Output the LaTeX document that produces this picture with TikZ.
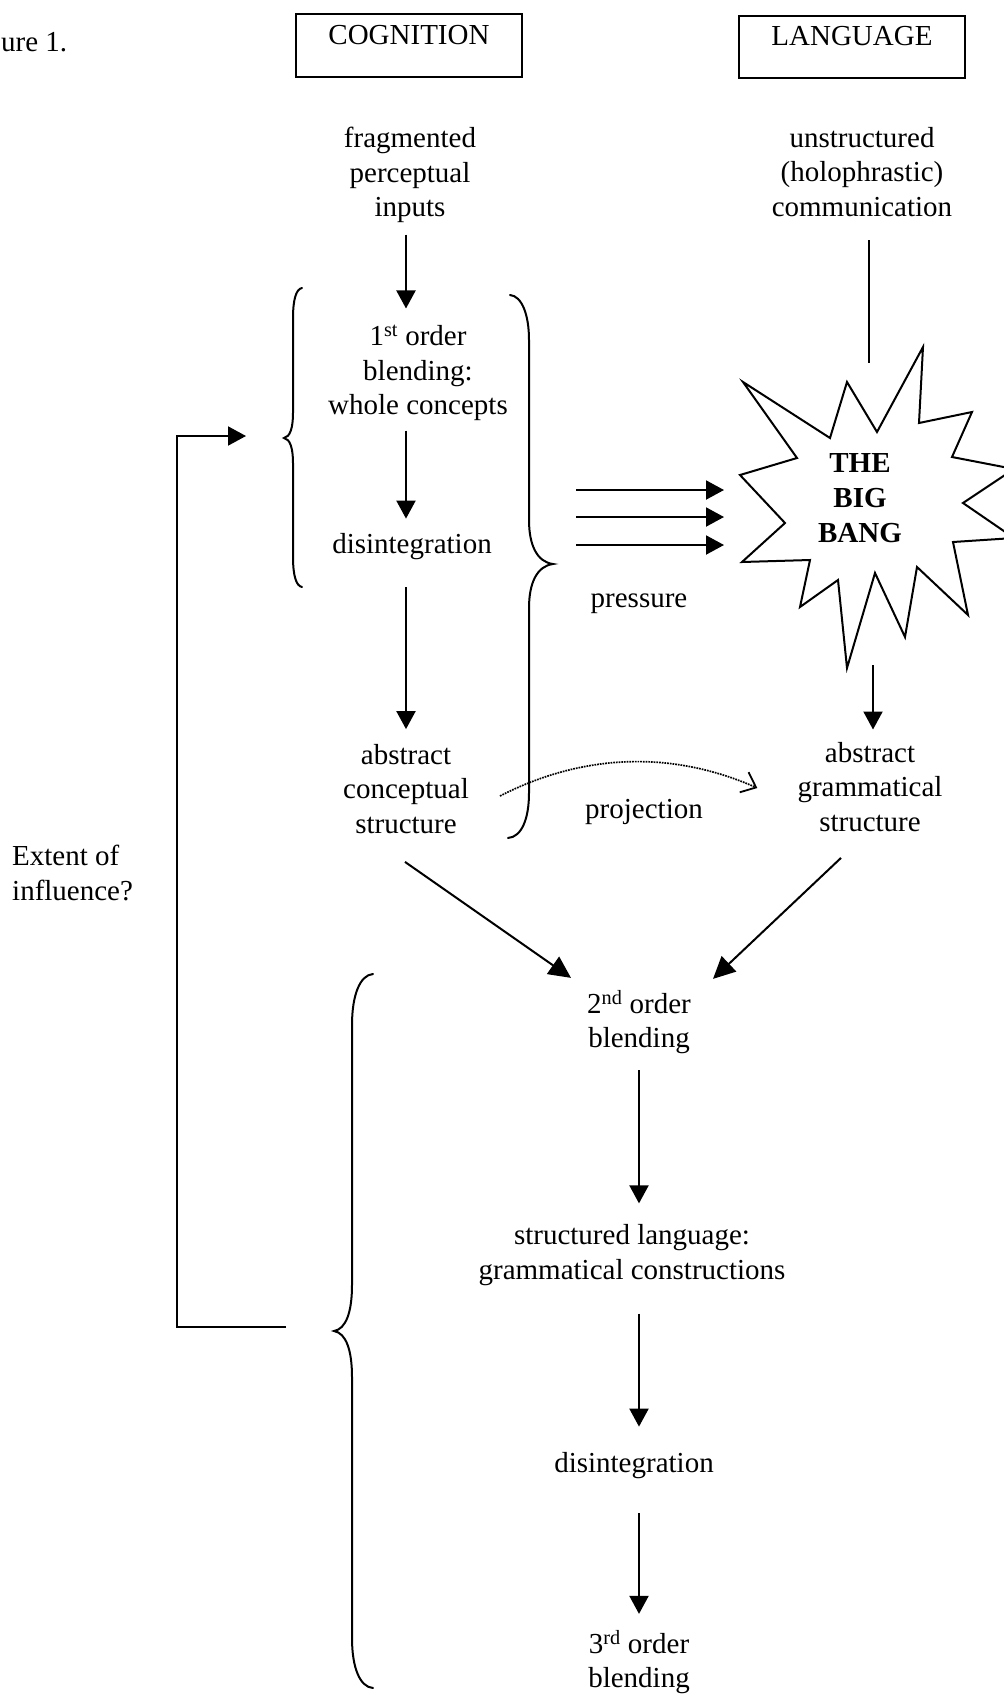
\documentclass[tikz,border=0pt]{standalone}
\usepackage{fontspec}
\setmainfont{Liberation Serif}
\usetikzlibrary{arrows.meta,calc}

\begin{document}
\begin{tikzpicture}[x=1pt,y=-1pt,
  every node/.style={font=\fontsize{29}{34.5}\selectfont, inner sep=0pt, align=center},
  line/.style={line width=2pt},
  arr/.style={line width=2pt, -{Triangle[length=18pt,width=19pt]}},
  bigarr/.style={line width=2pt, -{Triangle[length=22pt,width=21pt]}},
  headbox/.style={draw, line width=2pt, minimum width=226pt, text height=30pt, text depth=33pt, anchor=north},
  brace/.style={line width=2pt, line cap=round},
  proj/.style={line width=1.7pt, densely dotted, -{Straight Barb[length=13pt,width=22pt,line width=1.8pt]}}
]
\useasboundingbox (0,0) rectangle (1004,1695);

% ---- column headings ----
\node[headbox] (cog) at (409,13) {COGNITION};
\node[headbox, text height=29pt] (lang) at (852,15) {LANGUAGE};
\node[anchor=base west] (fig) at (1,51) {ure 1.};

% ---- text nodes ----
\node (frag) at (410,175) {fragmented\\perceptual\\inputs};
\node (unstr) at (862,172) {unstructured\\(holophrastic)\\communication};
\node (blend1) at (418,373) {1\textsuperscript{st} order\\blending:\\whole concepts};
\node (dis1) at (412,547) {disintegration};
\node (acs) at (406,789) {abstract\\conceptual\\structure};
\node (agsr) at (870,787) {abstract\\grammatical\\structure};
\node (press) at (639,604) {pressure};
\node (projl) at (644,812) {projection};
\node[font=\fontsize{29}{35}\selectfont\bfseries] (bangtxt) at (860,498) {THE\\BIG\\BANG};
\node (blend2) at (639,1022) {2\textsuperscript{nd} order\\blending};
\node (struct) at (632,1255) {structured language:\\grammatical constructions};
\node (dis2) at (634,1466) {disintegration};
\node (blend3) at (639,1662) {3\textsuperscript{rd} order\\blending};
\node[anchor=west, align=left] (extent) at (12,873) {Extent of\\influence?};

% ---- reference points ----
\coordinate (cA) at (406,0);
\coordinate (cB) at (639,0);
\coordinate (bangin) at (869,363);
\coordinate (bangout) at (873,665);
\coordinate (pa1) at (576,490); \coordinate (pb1) at (724,490);
\coordinate (pa2) at (576,517); \coordinate (pb2) at (724,517);
\coordinate (pa3) at (576,545); \coordinate (pb3) at (724,545);
\coordinate (fbstart) at (286,1327);
\coordinate (fbend) at (246,436);
\coordinate (fbx) at (177,0);

% ---- the big bang ----
\draw[line width=2pt, line join=miter]
  (743,382) -- (830,438) -- (847,382) -- (877,432) -- (923,347) -- (919,423)
  -- (972,412) -- (952,457) -- (1014,469) -- (963,503) -- (1014,538) -- (953,542)
  -- (968,615) -- (917,567) -- (905,637) -- (875,573) -- (847,668) -- (838,580)
  -- (800,607) -- (810,560) -- (742,562) -- (785,523) -- (740,475) -- (797,458)
  -- cycle;

% ---- braces ----
\draw[brace] (302,288) .. controls (296,289) and (293,300) .. (293,318)
  -- (293,413) .. controls (293,428) and (290,437) .. (284,438)
  .. controls (290,439) and (293,448) .. (293,463)
  -- (293,557) .. controls (293,575) and (296,586) .. (302,587);
\draw[brace] (510,295) .. controls (522,296) and (529,315) .. (529,340)
  -- (529,520) .. controls (529,545) and (537,562) .. (553,564)
  .. controls (537,566) and (529,583) .. (529,608)
  -- (529,793) .. controls (529,818) and (522,837) .. (508,838);
\draw[brace] (373,974) .. controls (360,975) and (352,995) .. (352,1025)
  -- (352,1285) .. controls (352,1312) and (346,1329) .. (334,1331)
  .. controls (346,1333) and (352,1350) .. (352,1377)
  -- (352,1638) .. controls (352,1668) and (360,1687) .. (373,1688);

% ---- cognition column ----
\draw[arr, shorten <=11.5pt, shorten >=16.5pt] (frag.south -| cA) -- (blend1.north -| cA);
\draw[arr, shorten <=9.5pt, shorten >=15pt] (blend1.south -| cA) -- (dis1.north -| cA);
\draw[arr, shorten <=27pt, shorten >=15pt] (dis1.south -| cA) -- (acs.north -| cA);

% ---- language column ----
\draw[line, shorten <=23.5pt] (unstr.south -| bangin) -- (bangin);
\draw[arr, shorten >=12.6pt] (bangout) -- (agsr.north -| bangout);

% ---- pressure ----
\draw[arr] (pa1) -- (pb1);
\draw[arr] (pa2) -- (pb2);
\draw[arr] (pa3) -- (pb3);

% ---- projection ----
\draw[proj] ($(acs.east)+(31,7)$) .. controls +(70,-36) and +(-98,-43) .. ($(agsr.west)+(-40,1)$);

% ---- into second order blending ----
\draw[bigarr] ($(acs.south)+(-1,28)$) -- ($(blend2.north)+(-68,-12)$);
\draw[bigarr] ($(agsr.south)+(-29,26)$) -- ($(blend2.north)+(74,-11)$);

% ---- lower column ----
\draw[arr, shorten <=16pt, shorten >=21pt] (blend2.south -| cB) -- (struct.north -| cB);
\draw[arr, shorten <=28pt, shorten >=26pt] (struct.south -| cB) -- (dis2.north -| cB);
\draw[arr, shorten <=34pt, shorten >=16pt] (dis2.south -| cB) -- (blend3.north -| cB);

% ---- feedback loop ----
\draw[arr] (fbstart) -- (fbstart -| fbx) -- (fbend -| fbx) -- (fbend);
\end{tikzpicture}
\end{document}
